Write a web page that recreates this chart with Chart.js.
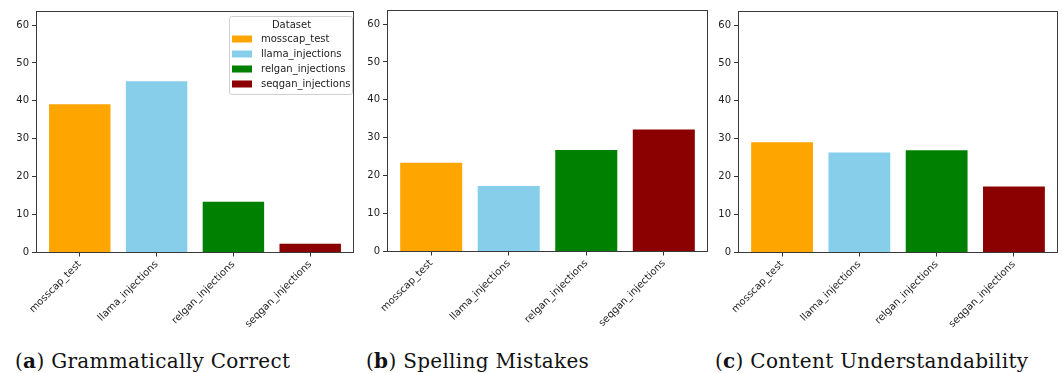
<!DOCTYPE html>
<html>
<head>
<meta charset="utf-8">
<script src="https://cdn.jsdelivr.net/npm/chart.js@4.4.0/dist/chart.umd.min.js"></script>
<style>
  body { margin: 0; background: #fff; width: 1062px; height: 373px; position: relative; overflow: hidden; }
  .panel { position: absolute; top: 0; }
  .caption { position: absolute; top: 349px; font-family: "DejaVu Serif", serif; font-size: 20px; letter-spacing: 0.3px; color: #111; white-space: nowrap; line-height: 24px; }
</style>
</head>
<body>
<div class="panel" id="p0"><canvas id="c0"></canvas></div>
<div class="panel" id="p1"><canvas id="c1"></canvas></div>
<div class="panel" id="p2"><canvas id="c2"></canvas></div>
<div class="caption" style="left:15px">(<b>a</b>) Grammatically Correct</div>
<div class="caption" style="left:366px">(<b>b</b>) Spelling Mistakes</div>
<div class="caption" style="left:715px">(<b>c</b>) Content Understandability</div>
<script>
// data
var categories = ['mosscap_test', 'llama_injections', 'relgan_injections', 'seqgan_injections'];
var barColors = ['#ffa500', '#87ceeb', '#008000', '#8b0000'];
var grammaticallyCorrect = [39.1, 45.2, 13.4, 2.3];
var spellingMistakes = [23.4, 17.3, 26.8, 32.2];
var contentUnderstandability = [29.1, 26.4, 27.0, 17.4];
var yTicks = [0, 10, 20, 30, 40, 50, 60];
var legendTitle = 'Dataset';

var FONT = '"DejaVu Sans", sans-serif';
var CANVAS_H = 340;
var PLOT_H = 241.5;
var Y_AXIS_W = 36;

// frame round the plot area (all four spines)
var framePlugin = {
  id: 'frame',
  afterDatasetsDraw: function(chart) {
    var a = chart.chartArea, ctx = chart.ctx;
    ctx.save();
    ctx.strokeStyle = '#3a3a3a';
    ctx.lineWidth = 1;
    ctx.strokeRect(Math.round(a.left) + 0.5, Math.round(a.top) + 0.5,
                   Math.round(a.right - a.left) - 1, Math.round(a.bottom - a.top) - 1);
    ctx.restore();
  }
};

// boxed legend in the upper right corner, with a title
var boxLegend = {
  id: 'boxLegend',
  afterDraw: function(chart) {
    var a = chart.chartArea, ctx = chart.ctx;
    var w = 123, h = 78;
    var x = a.right - 2 - w, y = a.top + 5;
    ctx.save();
    ctx.fillStyle = 'rgba(255,255,255,0.8)';
    ctx.strokeStyle = '#d0d0d0';
    ctx.lineWidth = 1;
    ctx.beginPath();
    ctx.roundRect(Math.round(x) + 0.5, Math.round(y) + 0.5, w, h, 2);
    ctx.fill();
    ctx.stroke();
    ctx.font = '10px ' + FONT;
    ctx.fillStyle = '#222';
    ctx.textBaseline = 'middle';
    ctx.textAlign = 'center';
    ctx.fillText(legendTitle, x + w / 2 + 1, y + 9);
    ctx.textAlign = 'left';
    chart.data.datasets.forEach(function(ds, i) {
      var cy = y + 23 + i * 15;
      ctx.fillStyle = ds.backgroundColor;
      ctx.fillRect(x + 3, cy - 3.5, 20, 7);
      ctx.fillStyle = '#222';
      ctx.fillText(ds.label, x + 32, cy + 0.5);
    });
    ctx.restore();
  }
};

function makeChart(id, left, width, top, values, withLegend) {
  var panel = document.getElementById('p' + id);
  panel.style.left = left + 'px';
  var canvas = document.getElementById('c' + id);
  canvas.width = width;
  canvas.height = CANVAS_H;

  var datasets = categories.map(function(name, i) {
    return {
      label: name,
      data: [{ x: i, y: values[i] }],
      backgroundColor: barColors[i],
      borderWidth: 0,
      grouped: false,
      categoryPercentage: 1,
      barPercentage: 0.8
    };
  });

  var plugins = [framePlugin];
  if (withLegend) plugins.push(boxLegend);

  return new Chart(canvas, {
    type: 'bar',
    data: { datasets: datasets },
    plugins: plugins,
    options: {
      responsive: false,
      animation: false,
      layout: { padding: { top: top, right: 2, left: 0, bottom: 0 } },
      plugins: { legend: { display: false }, tooltip: { enabled: false } },
      scales: {
        x: {
          type: 'linear',
          offset: false,
          min: -0.57,
          max: 3.57,
          afterBuildTicks: function(s) {
            s.ticks = categories.map(function(c, i) { return { value: i }; });
          },
          afterFit: function(s) { s.height = CANVAS_H - top - PLOT_H; },
          grid: { display: true, offset: false, drawOnChartArea: false, drawTicks: true, tickLength: 4, color: '#333' },
          border: { display: false },
          ticks: {
            autoSkip: false,
            minRotation: 45,
            maxRotation: 45,
            padding: 2,
            color: '#222',
            font: { family: FONT, size: 10 },
            callback: function(v, i) { return categories[i]; }
          }
        },
        y: {
          min: 0,
          max: 63.7,
          afterBuildTicks: function(s) {
            s.ticks = yTicks.map(function(v) { return { value: v }; });
          },
          afterFit: function(s) { s.width = Y_AXIS_W; },
          grid: { display: true, drawOnChartArea: false, drawTicks: true, tickLength: 4, color: '#333' },
          border: { display: false },
          ticks: { padding: 3, color: '#222', font: { family: FONT, size: 10 } }
        }
      }
    }
  });
}

makeChart(0, 0, 356, 11, grammaticallyCorrect, true);
makeChart(1, 351, 359, 10, spellingMistakes, false);
makeChart(2, 702, 358, 11, contentUnderstandability, false);
</script>
</body>
</html>
